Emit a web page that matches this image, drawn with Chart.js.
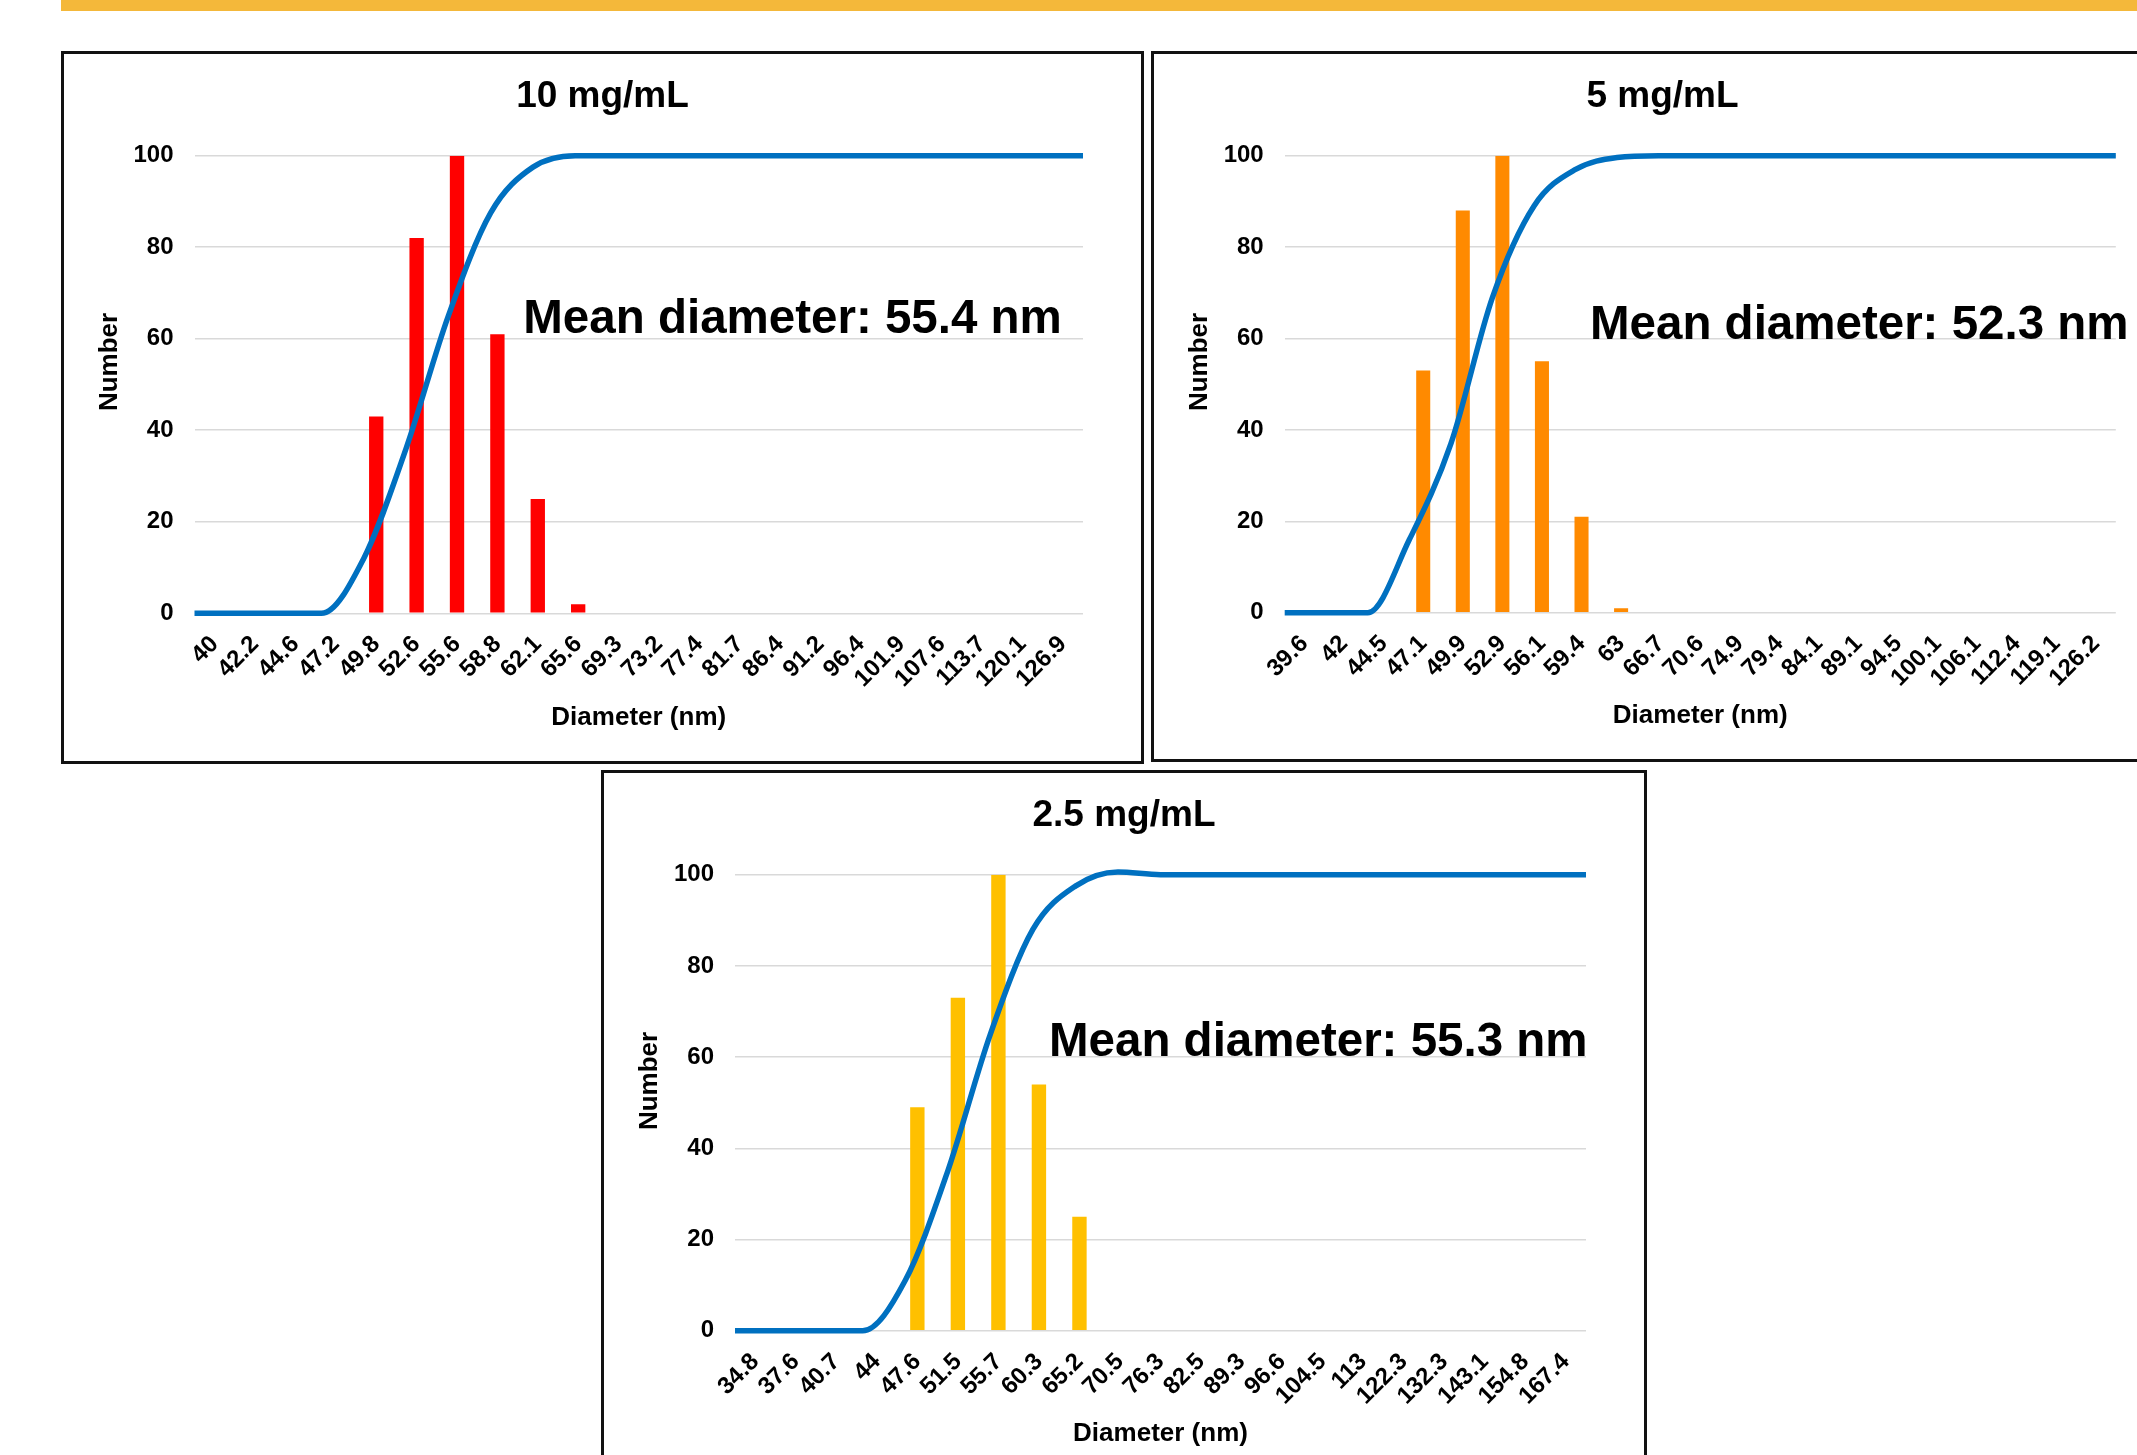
<!DOCTYPE html>
<html>
<head>
<meta charset="utf-8">
<script src="https://cdn.jsdelivr.net/npm/chart.js@4.4.1/dist/chart.umd.min.js"></script>
<style>
html,body{margin:0;padding:0;background:#fff;width:2137px;height:1455px;overflow:hidden;position:relative;}
#topbar{position:absolute;left:61px;top:0;width:2076px;height:11px;background:#F4B83A;}
.panel{position:absolute;border:3px solid #111;box-sizing:border-box;background:#fff;}
.panel canvas{display:block;}
</style>
</head>
<body>
<div id="topbar"></div>
<div class="panel" style="left:61px;top:51px;width:1083px;height:713px"><canvas id="c1" width="1077" height="707" style="width:1077px;height:707px"></canvas></div>
<div class="panel" style="left:1151px;top:51px;width:1023px;height:711px"><canvas id="c2" width="1017" height="705" style="width:1017px;height:705px"></canvas></div>
<div class="panel" style="left:601px;top:770px;width:1046px;height:713px"><canvas id="c3" width="1040" height="707" style="width:1040px;height:707px"></canvas></div>
<script>
// ---------- data ----------
const labels10 = ['40','42.2','44.6','47.2','49.8','52.6','55.6','58.8','62.1','65.6','69.3','73.2','77.4','81.7','86.4','91.2','96.4','101.9','107.6','113.7','120.1','126.9'];
const number10 = [0,0,0,0,43,82,100,61,25,2,0,0,0,0,0,0,0,0,0,0,0,0];
const undersize10 = [0,0,0,0,12,36,65,87.5,97.5,100,100,100,100,100,100,100,100,100,100,100,100,100];

const labels5 = ['39.6','42','44.5','47.1','49.9','52.9','56.1','59.4','63','66.7','70.6','74.9','79.4','84.1','89.1','94.5','100.1','106.1','112.4','119.1','126.2'];
const number5 = [0,0,0,53,88,100,55,21,1,0,0,0,0,0,0,0,0,0,0,0,0];
const undersize5 = [0,0,0,16,37,69,89,97,99.6,100,100,100,100,100,100,100,100,100,100,100,100];

const labels25 = ['34.8','37.6','40.7','44','47.6','51.5','55.7','60.3','65.2','70.5','76.3','82.5','89.3','96.6','104.5','113','122.3','132.3','143.1','154.8','167.4'];
const number25 = [0,0,0,0,49,73,100,54,25,0,0,0,0,0,0,0,0,0,0,0,0];
const undersize25 = [0,0,0,0,11,35,65,88,97.5,100.6,100,100,100,100,100,100,100,100,100,100,100];

const yTicks = [0,20,40,60,80,100];
const titles = ['10 mg/mL','5 mg/mL','2.5 mg/mL'];
const meanTexts = ['Mean diameter: 55.4 nm','Mean diameter: 52.3 nm','Mean diameter: 55.3 nm'];
const xTitle = 'Diameter (nm)';
const yTitle = 'Number';

// ---------- helpers ----------
const FONT = '"Liberation Sans", Arial, sans-serif';

const textPlugin = {
  id: 'panelText',
  afterDraw(chart) {
    const o = chart.options.plugins.panelText;
    if (!o) return;
    const ctx = chart.ctx;
    ctx.save();
    ctx.fillStyle = '#000';
    ctx.font = 'bold 26px ' + FONT;
    ctx.translate(o.yTitleX, o.yTitleY);
    ctx.rotate(-Math.PI / 2);
    ctx.textAlign = 'center';
    ctx.textBaseline = 'middle';
    ctx.fillText(o.yTitle, 0, 0);
    ctx.restore();
    ctx.save();
    ctx.fillStyle = '#000';
    ctx.font = 'bold 47.5px ' + FONT;
    ctx.textAlign = 'left';
    ctx.textBaseline = 'alphabetic';
    ctx.fillText(o.mean, o.meanX, o.meanY);
    ctx.restore();
  }
};

function makeChart(id, labels, bars, cum, color, title, mean, L) {
  return new Chart(document.getElementById(id), {
    type: 'bar',
    data: {
      labels: labels,
      datasets: [
        {
          type: 'line',
          data: cum,
          xAxisID: 'x2',
          yAxisID: 'y',
          borderColor: '#0070C0',
          borderWidth: 5.5,
          pointRadius: 0,
          cubicInterpolationMode: 'monotone',
          clip: 8,
          fill: false,
          order: 0
        },
        {
          type: 'bar',
          data: bars,
          xAxisID: 'x',
          yAxisID: 'y',
          backgroundColor: color,
          borderWidth: 0,
          grouped: false,
          barPercentage: 0.355,
          categoryPercentage: 1.0,
          order: 1
        }
      ]
    },
    options: {
      responsive: false,
      animation: false,
      events: [],
      layout: { padding: { left: 0, right: 0, top: 0, bottom: L.bottom } },
      plugins: {
        legend: { display: false },
        tooltip: { enabled: false },
        title: {
          display: true,
          text: title,
          color: '#000',
          font: { family: FONT, size: 37, weight: 'bold', lineHeight: 1 },
          padding: { top: 24, bottom: 40.7 }
        },
        panelText: { yTitle: yTitle, yTitleX: 46, yTitleY: 308, mean: mean, meanX: L.meanX, meanY: L.meanY }
      },
      scales: {
        x: {
          type: 'category',
          offset: true,
          grid: { display: false, drawTicks: false },
          border: { display: false },
          ticks: {
            autoSkip: false, maxRotation: 45, minRotation: 45, padding: 17,
            color: '#000', font: { family: FONT, size: 24, weight: 'bold' }
          },
          title: {
            display: true, text: xTitle, color: '#000',
            font: { family: FONT, size: 26, weight: 'bold', lineHeight: 1 },
            padding: { top: 0, bottom: L.xtpb }
          },
          afterFit(s) { s.height = 119; }
        },
        x2: {
          type: 'category',
          offset: false,
          display: false
        },
        y: {
          min: 0, max: 100,
          afterBuildTicks(s) { s.ticks = yTicks.map(v => ({ value: v })); },
          grid: { color: '#D9D9D9', lineWidth: 1.6, drawTicks: false },
          border: { display: false },
          ticks: { padding: 21, color: '#000', font: { family: FONT, size: 24, weight: 'bold' } },
          afterFit(s) { s.width = L.left; }
        },
        yRight: {
          type: 'linear',
          position: 'right',
          min: 0, max: 100,
          display: true,
          grid: { display: false, drawTicks: false },
          border: { display: false },
          ticks: { display: false },
          afterFit(s) { s.width = L.right; }
        }
      }
    },
    plugins: [textPlugin]
  });
}

makeChart('c1', labels10, number10, undersize10, '#FF0000', titles[0], meanTexts[0],
  { left: 130.5, right: 58, bottom: 28.7, xtpb: 1.3, meanX: 459.3, meanY: 278.7 });
makeChart('c2', labels5, number5, undersize5, '#FF8A00', titles[1], meanTexts[1],
  { left: 130.7, right: 55.2, bottom: 27.3, xtpb: 3.2, meanX: 436, meanY: 285 });
makeChart('c3', labels25, number25, undersize25, '#FFC000', titles[2], meanTexts[2],
  { left: 131, right: 58, bottom: 30.3, xtpb: 2.7, meanX: 445, meanY: 283 });
</script>
</body>
</html>
